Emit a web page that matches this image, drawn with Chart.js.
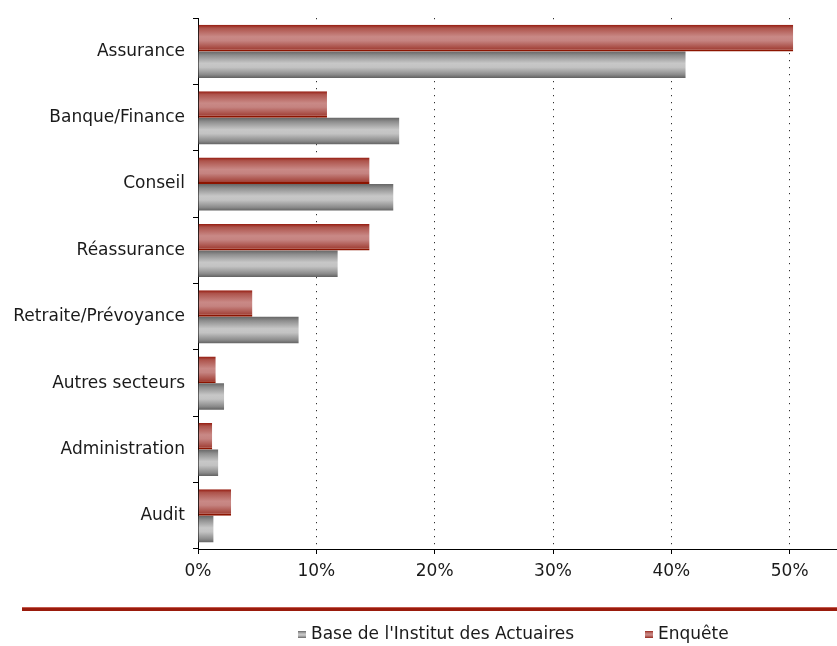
<!DOCTYPE html>
<html>
<head>
<meta charset="utf-8">
<script src="https://cdn.jsdelivr.net/npm/chart.js@4.4.0/dist/chart.umd.min.js"></script>
<style>
  html, body { margin: 0; padding: 0; background: #fff; }
  #wrap { width: 837px; height: 646px; }
</style>
</head>
<body>
<div id="wrap"><canvas id="chart"></canvas></div>
<script>
const categories = ['Assurance', 'Banque/Finance', 'Conseil', 'Réassurance',
  'Retraite/Prévoyance', 'Autres secteurs', 'Administration', 'Audit'];
const enquete = [50.3, 10.9, 14.5, 14.5, 4.6, 1.5, 1.2, 2.8];
const baseInstitut = [41.2, 17.0, 16.5, 11.8, 8.5, 2.2, 1.7, 1.3];
const xTicks = [0, 10, 20, 30, 40, 50];

const FONT = '"DejaVu Sans", Verdana, sans-serif';

// cylinder look: dark edges, light middle
const redStops = [[0, '#951a0e'], [0.12, '#ad534b'], [0.45, '#c98986'], [0.6, '#c58380'], [0.9, '#a4453c'], [1, '#921c10']];
const greyStops = [[0, '#666666'], [0.15, '#8e8e8e'], [0.45, '#c7c7c7'], [0.6, '#c3c3c3'], [0.88, '#8a8a8a'], [1, '#626262']];

function gradient(ctx, top, bottom, stops) {
  const g = ctx.createLinearGradient(0, top, 0, bottom);
  stops.forEach(s => g.addColorStop(s[0], s[1]));
  return g;
}

const barShading = {
  id: 'barShading',
  beforeDatasetsDraw(chart) {
    const ctx = chart.ctx;
    chart.data.datasets.forEach((ds, i) => {
      const meta = chart.getDatasetMeta(i);
      meta.data.forEach(bar => {
        const p = bar.getProps(['y', 'height'], true);
        const g = gradient(ctx, p.y - p.height / 2, p.y + p.height / 2, ds.stops);
        bar.options = Object.assign({}, bar.options, { backgroundColor: g });
      });
    });
  }
};

const footer = {
  id: 'footer',
  afterDraw(chart) {
    const ctx = chart.ctx;
    ctx.save();
    // dark red rule under the axis
    ctx.fillStyle = '#9a1b0c';
    ctx.fillRect(22, 607, chart.width - 22, 4);
    ctx.fillStyle = '#c25a4e';
    ctx.fillRect(22, 607, chart.width - 22, 1);
    // legend (base first, then enquête)
    const items = [
      { ds: chart.data.datasets[1], x: 298 },
      { ds: chart.data.datasets[0], x: 645 }
    ];
    ctx.font = '17px ' + FONT;
    ctx.textBaseline = 'middle';
    items.forEach(it => {
      ctx.fillStyle = gradient(ctx, 631, 638, it.ds.stops);
      ctx.fillRect(it.x, 631, 8, 7);
      ctx.fillStyle = '#1a1a1a';
      ctx.fillText(it.ds.label, it.x + 13, 635);
    });
    ctx.restore();
  }
};

new Chart(document.getElementById('chart'), {
  type: 'bar',
  data: {
    labels: categories,
    datasets: [
      {
        label: 'Enquête',
        data: enquete,
        stops: redStops,
        backgroundColor: '#c98986',
        borderColor: '#8c1400',
        borderWidth: { top: 0, right: 0, bottom: 2, left: 0 },
        borderSkipped: false,
        categoryPercentage: 0.8,
        barPercentage: 1.0
      },
      {
        label: "Base de l'Institut des Actuaires",
        data: baseInstitut,
        stops: greyStops,
        backgroundColor: '#c3c3c3',
        borderWidth: 0,
        categoryPercentage: 0.8,
        barPercentage: 1.0
      }
    ]
  },
  options: {
    indexAxis: 'y',
    responsive: true,
    maintainAspectRatio: false,
    animation: false,
    layout: { padding: { top: 14, right: 0, bottom: 61, left: 0 } },
    plugins: {
      legend: { display: false },
      tooltip: { enabled: false }
    },
    scales: {
      x: {
        min: 0,
        max: 54,
        afterFit: s => { s.height = 36; },
        afterBuildTicks: s => { s.ticks = xTicks.map(v => ({ value: v })); },
        ticks: {
          callback: v => v + '%',
          color: '#1a1a1a',
          padding: 7,
          font: { family: FONT, size: 17 }
        },
        grid: {
          color: c => (c.tick && c.tick.value === 0 ? 'rgba(0,0,0,0)' : '#000'),
          tickColor: '#000',
          tickLength: 5,
          lineWidth: 1
        },
        border: { color: '#000', width: 1, dash: [1, 6] }
      },
      y: {
        afterFit: s => { s.width = 198; },
        ticks: {
          color: '#1a1a1a',
          padding: 8,
          font: { family: FONT, size: 17 }
        },
        grid: {
          offset: true,
          drawOnChartArea: false,
          color: '#000',
          tickLength: 5
        },
        border: { color: '#000', width: 1 }
      }
    }
  },
  plugins: [barShading, footer]
});
</script>
</body>
</html>
